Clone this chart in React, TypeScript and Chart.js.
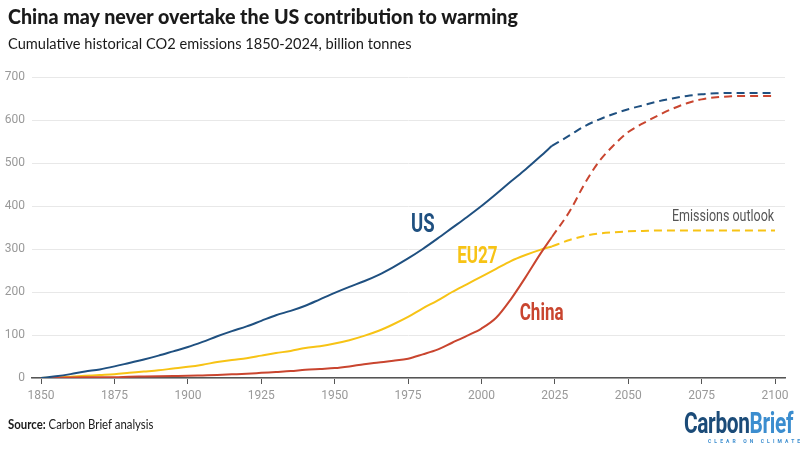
import React, { useEffect, useRef } from "react";
import { Chart, registerables } from "chart.js";
Chart.register(...registerables);

// ---- Data (billion tonnes CO2, cumulative) ----
const histYears = [1850,1855,1860,1865,1870,1875,1880,1885,1890,1895,1900,1905,1910,1915,1920,1925,1930,1935,1940,1945,1950,1955,1960,1965,1970,1975,1980,1985,1990,1995,2000,2005,2010,2015,2020,2024];
const usHist = [0,4,9,15,20,27,35,43,52,62,72,84,97,109,120,133,146,156,168,183,198,212,225,240,258,278,300,324,349,374,400,428,457,485,515,540];
const eu27Hist = [0,1,3,5,7,9,12,15,18,22,26,31,37,42,46,52,58,63,70,74,80,88,98,110,125,142,162,180,200,218,236,254,272,286,298,306];
const chinaHist = [0,0.5,1,1.5,2,2,3,3.5,4,4.5,5,6,7,8.5,10,12,14,16,19,21,23,27,32,36,40,45,55,66,82,98,115,140,183,234,288,328];

const projYears = [2024,2030,2035,2040,2045,2050,2055,2060,2065,2070,2075,2080,2085,2090,2095,2100];
const usProj = [540,564,585,601,614,625,634,643,650,656,660,662,663,663,663,663];
const eu27Proj = [306,321,330,336,339,341,342,343,343,343,343,343,343,343,343,343];
const chinaProj = [328,387,450,503,541,572,592,610,626,639,648,653,655,656,656,656];

const xTickValues = [1850,1875,1900,1925,1950,1975,2000,2025,2050,2075,2100];
const yTickValues = [0,100,200,300,400,500,600,700];

// in-chart labels, anchored in data coordinates
const labelTexts = ["US", "EU27", "China", "Emissions outlook"];
const labelYears = [1980, 1998.6, 2020.5, 2099.7];
const labelValues = [354, 281, 148, 374];

const US_COLOR = "#1f5080";
const EU_COLOR = "#f7c315";
const CN_COLOR = "#c9452f";

const toXY = (xs: number[], ys: number[]) => xs.map((x, i) => ({ x, y: ys[i] }));

const labelPlugin = {
  id: "inlineLabels",
  afterDatasetsDraw(chart: any) {
    const { ctx, scales } = chart;
    const styles = [
      { color: US_COLOR, font: "bold 25px Roboto", sx: 0.74, align: "center" },
      { color: EU_COLOR, font: "bold 23px Roboto", sx: 0.74, align: "center" },
      { color: CN_COLOR, font: "bold 23px Roboto", sx: 0.74, align: "center" },
      { color: "#555555", font: "16px Roboto", sx: 0.78, align: "right" },
    ];
    labelTexts.forEach((t, i) => {
      const px = scales.x.getPixelForValue(labelYears[i]);
      const py = scales.y.getPixelForValue(labelValues[i]);
      const s = styles[i];
      ctx.save();
      ctx.translate(px, py);
      ctx.scale(s.sx, 1);
      ctx.font = s.font;
      ctx.fillStyle = s.color;
      ctx.textAlign = s.align;
      ctx.textBaseline = "middle";
      ctx.fillText(t, 0, 0);
      ctx.restore();
    });
  },
};

export default function App() {
  const ref = useRef<HTMLCanvasElement | null>(null);
  useEffect(() => {
    document.body.style.margin = "0";
    const c = ref.current!;
    const chart = new Chart(c, {
      type: "line",
      data: {
        datasets: [
          { data: toXY(histYears, usHist), borderColor: US_COLOR, order: 1 },
          { data: toXY(projYears, usProj), borderColor: US_COLOR, borderDash: [8, 5], order: 2 },
          { data: toXY(histYears, chinaHist), borderColor: CN_COLOR, order: 3 },
          { data: toXY(projYears, chinaProj), borderColor: CN_COLOR, borderDash: [8, 5], order: 4 },
          { data: toXY(histYears, eu27Hist), borderColor: EU_COLOR, order: 5 },
          { data: toXY(projYears, eu27Proj), borderColor: EU_COLOR, borderDash: [8, 5], order: 6 },
        ].map((d) => ({
          ...d,
          borderWidth: 2,
          pointRadius: 0,
          tension: 0.4,
          fill: false,
          cubicInterpolationMode: "monotone" as const,
        })),
      },
      options: {
        responsive: false,
        animation: false,
        layout: { padding: { top: 77, right: 15, left: 0, bottom: 0 } },
        plugins: { legend: { display: false }, tooltip: { enabled: false } },
        scales: {
          x: {
            type: "linear",
            min: 1846.9,
            max: 2103.4,
            afterBuildTicks: (s: any) => {
              s.ticks = xTickValues.map((v) => ({ value: v }));
            },
            afterFit: (s: any) => {
              s.height = 72;
            },
            ticks: {
              color: "#999999",
              font: { family: "Roboto", size: 12 },
              padding: 5,
              maxRotation: 0,
              autoSkip: false,
              callback: (v: any) => String(v),
            },
            grid: { drawOnChartArea: false, drawTicks: true, tickLength: 6, color: "#555555" },
            border: { display: true, color: "#555555", width: 1.5 },
          },
          y: {
            min: 0,
            max: 700,
            afterBuildTicks: (s: any) => {
              s.ticks = yTickValues.map((v) => ({ value: v }));
            },
            afterFit: (s: any) => {
              s.width = 32;
            },
            ticks: {
              color: "#999999",
              font: { family: "Roboto", size: 12 },
              padding: 7,
            },
            grid: { color: "#e8e8e8", drawTicks: false },
            border: { display: false },
          },
        },
      },
      plugins: [labelPlugin],
    } as any);
    return () => chart.destroy();
  }, []);

  return (
    <div style={{ position: "absolute", left: 0, top: 0, width: 800, height: 450, background: "#fff", overflow: "hidden" }}>
      <canvas ref={ref} width={800} height={450} style={{ position: "absolute", left: 0, top: 0 }} />
      <div
        style={{
          position: "absolute", left: 8, top: 4, fontFamily: "Lato", fontWeight: 900, fontSize: 21,
          color: "#1a1a1a", whiteSpace: "nowrap", lineHeight: "24px", transformOrigin: "left top",
          transform: "scaleX(0.937)",
        }}
      >
        China may never overtake the US contribution to warming
      </div>
      <div
        style={{
          position: "absolute", left: 8, top: 33, fontFamily: "Lato", fontSize: 15.5,
          color: "#1a1a1a", whiteSpace: "nowrap", lineHeight: "20px", transformOrigin: "left top",
          transform: "scaleX(0.942)",
        }}
      >
        Cumulative historical CO2 emissions 1850-2024, billion tonnes
      </div>
      <div
        style={{
          position: "absolute", left: 8, top: 417, fontFamily: "Lato", fontSize: 12.5,
          color: "#1a1a1a", whiteSpace: "nowrap", lineHeight: "16px", transformOrigin: "left top",
          transform: "scaleX(0.91)",
        }}
      >
        <b>Source:</b> Carbon Brief analysis
      </div>
      <div style={{ position: "absolute", left: 684, top: 408, width: 114, height: 40 }}>
        <div
          style={{
            fontFamily: "Roboto", fontWeight: 700, fontSize: 29, lineHeight: "30px", whiteSpace: "nowrap",
            transform: "scaleX(0.72)", transformOrigin: "left top", letterSpacing: -0.5,
          }}
        >
          <span style={{ color: "#1b4b78" }}>Carbon</span>
          <span style={{ color: "#3b8dcf" }}>Brief</span>
        </div>
        <div
          style={{
            position: "absolute", left: 24, top: 30, fontFamily: "Roboto", fontWeight: 700, fontSize: 5,
            letterSpacing: 3.1, color: "#3b8dcf", whiteSpace: "nowrap",
          }}
        >
          CLEAR ON CLIMATE
        </div>
      </div>
    </div>
  );
}
